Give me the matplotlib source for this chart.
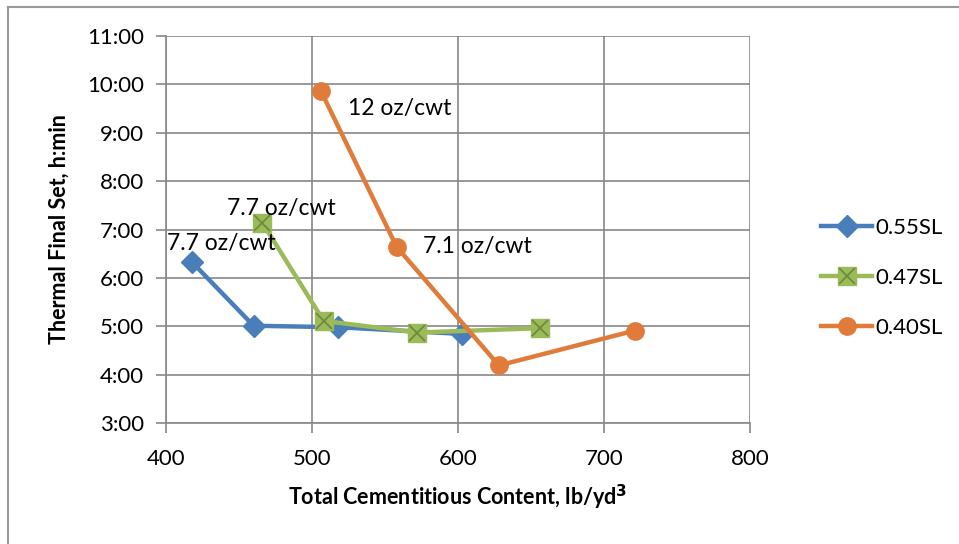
import matplotlib
matplotlib.use("Agg")
import matplotlib.pyplot as plt
from matplotlib.ticker import FuncFormatter, MultipleLocator
from matplotlib.lines import Line2D

plt.rcParams['font.family'] = ['Lato', 'DejaVu Sans']

# Data (x: lb/yd3, y: hours)
x_055 = [418, 460, 518, 603]
y_055 = [6.32, 5.01, 4.98, 4.84]
x_047 = [466, 508, 572, 656]
y_047 = [7.14, 5.11, 4.87, 4.96]
x_040 = [506, 558, 628, 721]
y_040 = [9.87, 6.64, 4.19, 4.91]

series_labels = ['0.55SL', '0.47SL', '0.40SL']
annot_texts = ['7.7 oz/cwt', '7.7 oz/cwt', '12 oz/cwt', '7.1 oz/cwt']
annot_x = [401, 442, 525, 576]
annot_y = [6.72, 7.44, 9.5, 6.64]

blue = '#4a7ebb'
green = '#9bbb59'
green_edge = '#71893f'
orange = '#e07b39'
grid_c = '#888888'

fig = plt.figure(figsize=(9.59, 5.44), dpi=100)
# outer frame (top and left visible)
fig.add_artist(Line2D([8/959, 1.0], [1-7/544, 1-7/544], transform=fig.transFigure, color='#999999', lw=1.5))
fig.add_artist(Line2D([8/959, 8/959], [0, 1-7/544], transform=fig.transFigure, color='#999999', lw=1.5))

ax = fig.add_axes([166/959, 1-423/544, (750-166)/959, (423-36)/544])

ax.plot(x_055, y_055, color=blue, lw=3.2, marker='D', ms=11, mfc=blue, mec=blue, label=series_labels[0], zorder=3)
ax.plot(x_047, y_047, color=green, lw=3.2, marker='s', ms=12.5, mfc=green, mec=green, label=series_labels[1], zorder=4)
ax.plot(x_047, y_047, color='none', lw=0, marker='x', ms=11.5, mew=1.3, mec=green_edge, zorder=5)
ax.plot(x_040, y_040, color=orange, lw=3.2, marker='o', ms=12.5, mfc=orange, mec=orange, label=series_labels[2], zorder=6)

for t, xx, yy in zip(annot_texts, annot_x, annot_y):
    ax.text(xx, yy, t, fontsize=16.5, va='center', ha='left', color='black', zorder=7)

ax.set_xlim(400, 800)
ax.set_ylim(3, 11)
ax.xaxis.set_major_locator(MultipleLocator(100))
ax.yaxis.set_major_locator(MultipleLocator(1))
ax.yaxis.set_major_formatter(FuncFormatter(lambda v, p: f"{int(v)}:{int(round((v-int(v))*60)):02d}"))
ax.grid(True, color=grid_c, lw=1.2)
ax.set_axisbelow(True)
for s in ['top', 'right']:
    ax.spines[s].set_visible(False)
for s in ['left', 'bottom']:
    ax.spines[s].set_color(grid_c)
    ax.spines[s].set_linewidth(1.2)
ax.tick_params(axis='both', direction='out', length=7, width=1.2, color=grid_c, labelsize=16, pad=8)
ax.tick_params(axis='y', pad=9)
ax.tick_params(axis='x', pad=12)

ax.set_xlabel('Total Cementitious Content, lb/yd$^\\mathbf{3}$', fontsize=15.5, fontweight='bold', labelpad=10)
ax.set_ylabel('Thermal Final Set, h:min', fontsize=15.5, fontweight='bold', labelpad=12)

# legend
h1 = Line2D([], [], color=blue, lw=3.2, marker='D', ms=11)
h2 = (Line2D([], [], color=green, lw=3.2, marker='s', ms=12.5), Line2D([], [], color='none', marker='x', ms=11.5, mew=1.3, mec=green_edge))
h3 = Line2D([], [], color=orange, lw=3.2, marker='o', ms=12.5)
fig.legend([h1, h2, h3], series_labels, loc='center left', bbox_to_anchor=(801/959, 1-278/544),
           frameon=False, fontsize=16, handlelength=2.3, labelspacing=1.35, handletextpad=0.15)

fig.savefig('out.png', dpi=100)
